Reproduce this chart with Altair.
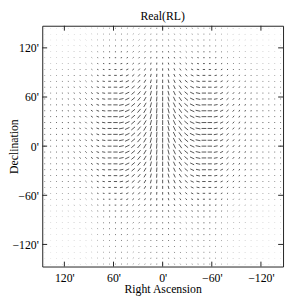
import numpy as np
import pandas as pd
import altair as alt

# grid positions (arcmin), 41 columns / rows
grid = [round(-144 + 7.2 * i, 1) for i in range(41)]

# segment orientation (screen degrees, ccw from horizontal) for columns, RA <= 0 side (k = 0..20 from centre)
ang_right = [90, 105, 115, 125, 140, 155, 168, 180, 180, 190, 205, 220, 230, 240, 250, 260, 270, 270, 270, 270, 270]
# RA > 0 side (k = 1..20 from centre)
ang_left = [85, 75, 60, 50, 40, 25, 12, 0, 0, -10, -20, -35, -45, -55, -65, -75, -85, -90, -90, -90]

# relative amplitude of columns (k = 0..20 from centre)
amp_col = [0.9, 0.95, 0.95, 0.92, 0.9, 0.9, 0.9, 0.88, 0.82, 0.72, 0.62, 0.52, 0.43, 0.36, 0.3, 0.25, 0.21, 0.18, 0.16, 0.15, 0.15]
# relative amplitude of rows, from top (Dec = +144) to bottom (Dec = -144)
amp_row = [0.15, 0.15, 0.17, 0.2, 0.25, 0.3, 0.38, 0.48, 0.6, 0.7, 0.8, 0.88, 0.93, 0.97, 1.0,
           1.0, 1.0, 1.0, 1.0, 1.0, 1.0, 0.97, 0.95, 0.9, 0.85, 0.8, 0.72, 0.62, 0.52, 0.43,
           0.36, 0.3, 0.25, 0.22, 0.2, 0.18, 0.16, 0.15, 0.15, 0.15, 0.15]

tick_vals = [120, 60, 0, -60, -120]

H = 3.3  # half length of the longest segment (arcmin)

rows = []
for j, dec in enumerate(reversed(grid)):
    for i, ra in enumerate(grid):
        if ra <= 0:
            th = ang_right[20 - i]
        else:
            th = ang_left[i - 21]
        a = amp_col[abs(20 - i)] * amp_row[j]
        t = np.deg2rad(th)
        hx = -a * H * np.cos(t)  # x scale is reversed
        hy = a * H * np.sin(t)
        rows.append({"x1": ra - hx, "x2": ra + hx, "y1": dec - hy, "y2": dec + hy})
df = pd.DataFrame(rows)
ticks = pd.DataFrame({"t": tick_vals})

W = 246
dom = [-147, 147]
xs = alt.Scale(domain=dom, reverse=True, nice=False, zero=False)
ys = alt.Scale(domain=dom, nice=False, zero=False)
lab = "(datum.value < 0 ? '\u2212' : '') + abs(datum.value) + \"'\""

ax_x = alt.Axis(values=tick_vals, labelExpr=lab, ticks=False, domain=False, grid=False,
                title="Right Ascension", labelPadding=6, titleY=27, titleBaseline="alphabetic")
ax_y = alt.Axis(values=tick_vals, labelExpr=lab, ticks=False, domain=False, grid=False,
                title="Declination", labelPadding=4, titleX=-25, titleBaseline="alphabetic")

seg = alt.Chart(df).mark_rule(color="#555555", strokeWidth=1, clip=True).encode(
    x=alt.X("x1:Q", scale=xs, axis=ax_x),
    x2="x2:Q",
    y=alt.Y("y1:Q", scale=ys, axis=ax_y),
    y2="y2:Q",
)

tk = dict(color="#222222", strokeWidth=1)
bot = alt.Chart(ticks).mark_rule(**tk).encode(x=alt.X("t:Q", scale=xs, axis=ax_x), y=alt.value(W), y2=alt.value(W - 5))
top = alt.Chart(ticks).mark_rule(**tk).encode(x=alt.X("t:Q", scale=xs, axis=ax_x), y=alt.value(0), y2=alt.value(5))
lft = alt.Chart(ticks).mark_rule(**tk).encode(y=alt.Y("t:Q", scale=ys, axis=ax_y), x=alt.value(0), x2=alt.value(5))
rgt = alt.Chart(ticks).mark_rule(**tk).encode(y=alt.Y("t:Q", scale=ys, axis=ax_y), x=alt.value(W), x2=alt.value(W - 5))

chart = alt.layer(seg, bot, top, lft, rgt).properties(
    width=W, height=W,
    title=alt.Title("Real(RL)", font="Liberation Serif", fontSize=12, fontWeight="normal", color="#000",
                    offset=8, frame="group", anchor="middle", dy=6),
    autosize=alt.AutoSizeParams(type="none"),
    padding={"left": 35, "top": 15, "right": 2, "bottom": 29},
).configure_view(stroke="#222222", strokeWidth=1).configure_axis(
    labelFont="Liberation Serif", labelFontSize=12, labelColor="#000",
    titleFont="Liberation Serif", titleFontSize=12, titleFontWeight="normal", titleColor="#000",
)

chart.save("out.html", embed_options={"renderer": "svg", "actions": False})
